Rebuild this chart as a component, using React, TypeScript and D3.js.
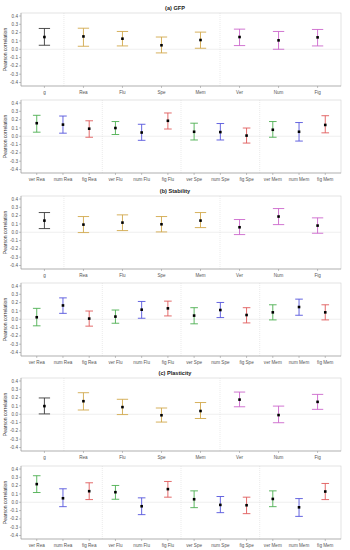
import React from "react";
import * as d3 from "d3";

// categories
const topCats = ["g", "Rea", "Flu", "Spe", "Mem", "Ver", "Num", "Fig"];
const bottomCats = [
  "ver Rea", "num Rea", "fig Rea",
  "ver Flu", "num Flu", "fig Flu",
  "ver Spe", "num Spe", "fig Spe",
  "ver Mem", "num Mem", "fig Mem",
];
const yTicks = [0.4, 0.3, 0.2, 0.1, 0.0, -0.1, -0.2, -0.3, -0.4];

// (a) GFP
const gfpTopEst = [0.147, 0.154, 0.127, 0.048, 0.111, 0.147, 0.107, 0.143];
const gfpTopLo = [0.048, 0.036, 0.04, -0.044, 0.012, 0.044, 0.0, 0.04];
const gfpTopHi = [0.25, 0.253, 0.214, 0.147, 0.206, 0.242, 0.214, 0.238];
const gfpBotEst = [0.157, 0.14, 0.091, 0.099, 0.045, 0.186, 0.054, 0.05, 0.008, 0.078, 0.054, 0.136];
const gfpBotLo = [0.049, 0.037, -0.012, 0.021, -0.049, 0.087, -0.045, -0.045, -0.082, -0.012, -0.058, 0.041];
const gfpBotHi = [0.252, 0.243, 0.186, 0.177, 0.144, 0.28, 0.157, 0.153, 0.099, 0.177, 0.165, 0.247];

// (b) Stability
const stabTopEst = [0.14, 0.092, 0.116, 0.096, 0.14, 0.06, 0.189, 0.08];
const stabTopLo = [0.044, -0.004, 0.02, 0.004, 0.056, -0.028, 0.092, -0.012];
const stabTopHi = [0.237, 0.189, 0.209, 0.189, 0.237, 0.153, 0.285, 0.173];
const stabBotEst = [0.024, 0.166, 0.008, 0.032, 0.115, 0.131, 0.044, 0.111, 0.051, 0.083, 0.147, 0.083];
const stabBotLo = [-0.079, 0.071, -0.083, -0.048, 0.012, 0.04, -0.055, 0.02, -0.044, -0.008, 0.048, -0.008];
const stabBotHi = [0.131, 0.257, 0.099, 0.111, 0.214, 0.218, 0.139, 0.202, 0.139, 0.174, 0.242, 0.174];

// (c) Plasticity
const plasTopEst = [0.098, 0.157, 0.086, -0.012, 0.039, 0.176, -0.01, 0.149];
const plasTopLo = [0.004, 0.051, -0.004, -0.094, -0.051, 0.09, -0.102, 0.059];
const plasTopHi = [0.196, 0.259, 0.18, 0.075, 0.141, 0.267, 0.098, 0.239];
const plasBotEst = [0.218, 0.048, 0.133, 0.121, -0.048, 0.158, 0.036, -0.032, -0.036, 0.04, -0.061, 0.129];
const plasBotLo = [0.117, -0.053, 0.032, 0.036, -0.149, 0.061, -0.065, -0.125, -0.137, -0.053, -0.17, 0.032];
const plasBotHi = [0.319, 0.162, 0.234, 0.202, 0.053, 0.25, 0.137, 0.069, 0.061, 0.137, 0.044, 0.226];

const topColors = ["#3a3a3a", "#d1a84c", "#d1a84c", "#d1a84c", "#d1a84c", "#cc66cc", "#cc66cc", "#cc66cc"];
const botColors = ["#4caf50", "#5555dd", "#e05a5a"];

const W = 350;
const H = 550;
const left = 21;
const right = 341;
const ph = 73;

const panels = [
  { top: 13, title: "(a) GFP", cats: topCats, est: gfpTopEst, lo: gfpTopLo, hi: gfpTopHi, seps: [0, 4] },
  { top: 100, title: null, cats: bottomCats, est: gfpBotEst, lo: gfpBotLo, hi: gfpBotHi, seps: [2, 5, 8] },
  { top: 196, title: "(b) Stability", cats: topCats, est: stabTopEst, lo: stabTopLo, hi: stabTopHi, seps: [0, 4] },
  { top: 283, title: null, cats: bottomCats, est: stabBotEst, lo: stabBotLo, hi: stabBotHi, seps: [2, 5, 8] },
  { top: 378, title: "(c) Plasticity", cats: topCats, est: plasTopEst, lo: plasTopLo, hi: plasTopHi, seps: [0, 4] },
  { top: 466, title: null, cats: bottomCats, est: plasBotEst, lo: plasBotLo, hi: plasBotHi, seps: [2, 5, 8] },
];

const Panel = ({ p }: { p: any }) => {
  const y = d3.scaleLinear().domain([-0.442, 0.436]).range([p.top + ph, p.top]);
  const x = d3.scalePoint<string>().domain(p.cats).range([left, right]).padding(0.6);
  const cap = x.step() * 0.29;
  const colorOf = (i: number) => (p.cats.length === 8 ? topColors[i] : botColors[i % 3]);
  const font = "Liberation Sans, Arial, sans-serif";
  return (
    <g>
      {p.title && (
        <text x={175} y={p.top - 3.5} textAnchor="middle" fontSize={5.6} fontWeight="bold" fontFamily={font} fill="#222">
          {p.title}
        </text>
      )}
      <rect x={left} y={p.top} width={right - left} height={ph} fill="#fff" stroke="#d0d0d0" strokeWidth={0.6} />
      <line x1={left} x2={right} y1={y(0)} y2={y(0)} stroke="#e4e4e4" strokeWidth={0.6} />
      {p.seps.map((i: number) => {
        const sx = ((x(p.cats[i]) as number) + (x(p.cats[i + 1]) as number)) / 2;
        return <line key={i} x1={sx} x2={sx} y1={p.top} y2={p.top + ph} stroke="#d6d6d6" strokeWidth={0.5} strokeDasharray="1,1" />;
      })}
      <line x1={left} x2={left} y1={p.top} y2={p.top + ph} stroke="#9a9a9a" strokeWidth={0.6} />
      <line x1={left} x2={right} y1={p.top + ph} y2={p.top + ph} stroke="#9a9a9a" strokeWidth={0.6} />
      {yTicks.map((t) => (
        <g key={t}>
          <line x1={left - 2} x2={left} y1={y(t)} y2={y(t)} stroke="#888" strokeWidth={0.5} />
          <text x={left - 3} y={y(t)} dy="0.35em" textAnchor="end" fontSize={4.6} fontFamily={font} fill="#555">
            {t.toFixed(1)}
          </text>
        </g>
      ))}
      <text
        transform={`translate(7,${p.top + ph / 2}) rotate(-90)`}
        textAnchor="middle"
        fontSize={5}
        fontFamily={font}
        fill="#333"
      >
        Pearson correlation
      </text>
      {p.cats.map((c: string, i: number) => {
        const cx = x(c) as number;
        const col = colorOf(i);
        return (
          <g key={c}>
            <line x1={cx} x2={cx} y1={p.top + ph} y2={p.top + ph + 2} stroke="#888" strokeWidth={0.5} />
            <text x={cx} y={p.top + ph + 7.5} textAnchor="middle" fontSize={4.6} fontFamily={font} fill="#555">
              {c}
            </text>
            <line x1={cx} x2={cx} y1={y(p.lo[i])} y2={y(p.hi[i])} stroke={col} strokeWidth={0.9} />
            <line x1={cx - cap / 2} x2={cx + cap / 2} y1={y(p.lo[i])} y2={y(p.lo[i])} stroke={col} strokeWidth={0.9} />
            <line x1={cx - cap / 2} x2={cx + cap / 2} y1={y(p.hi[i])} y2={y(p.hi[i])} stroke={col} strokeWidth={0.9} />
            <rect x={cx - 1.3} y={y(p.est[i]) - 1.3} width={2.6} height={2.6} fill="#000" />
          </g>
        );
      })}
    </g>
  );
};

export default function App() {
  return (
    <svg width={W} height={H} style={{ position: "absolute", left: 0, top: 0, background: "#fff" }}>
      {panels.map((p, i) => (
        <Panel key={i} p={p} />
      ))}
    </svg>
  );
}
